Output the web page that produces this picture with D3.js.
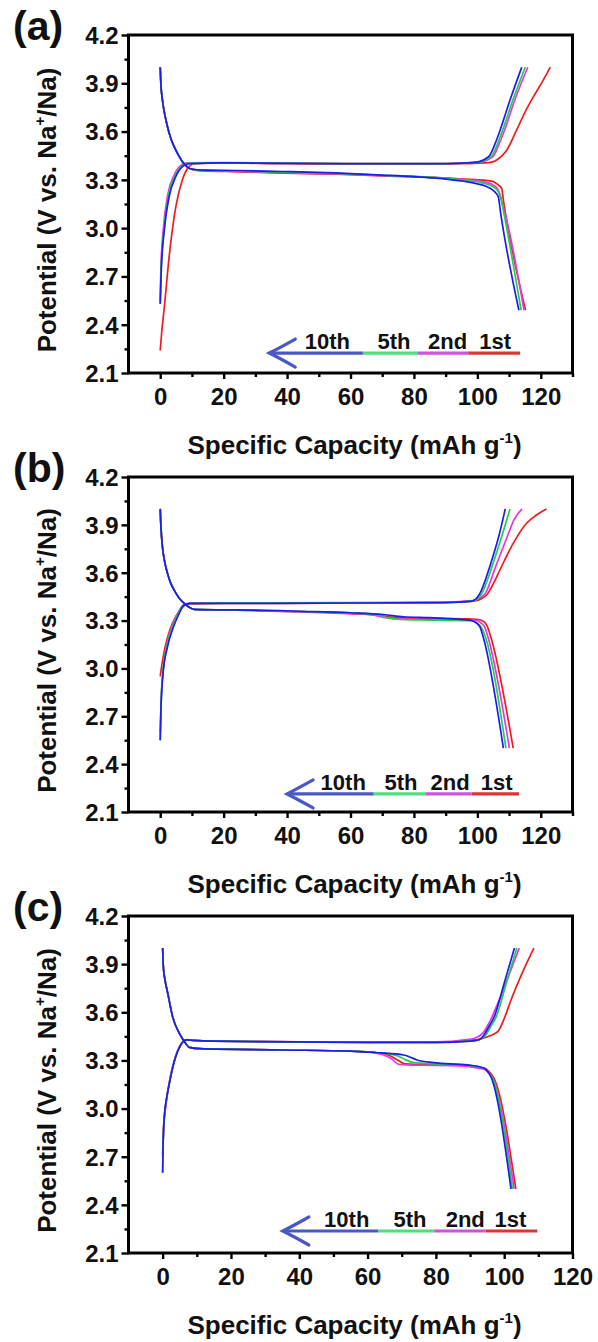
<!DOCTYPE html>
<html>
<head>
<meta charset="utf-8">
<script src="https://cdn.jsdelivr.net/npm/d3@7"></script>
<style>
  html, body { margin: 0; padding: 0; background: #fff; }
  svg { display: block; font-family: "Liberation Sans", Arial, sans-serif; font-weight: bold; }
</style>
</head>
<body>
<svg id="fig" width="598" height="1342"></svg>
<script>
// Galvanostatic charge/discharge profiles, cycles 1, 2, 5 and 10, three electrodes.
const cycles = ["1st", "2nd", "5th", "10th"];
const capTicks = [0, 20, 40, 60, 80, 100, 120];
const capMinorTicks = [10, 30, 50, 70, 90, 110, 130];
const voltTicks = [2.1, 2.4, 2.7, 3.0, 3.3, 3.6, 3.9, 4.2];
const voltMinorTicks = [2.25, 2.55, 2.85, 3.15, 3.45, 3.75, 4.05];

// ---- electrode (a) ----  [capacity mAh/g, potential V]
const aCharge1st = [[0,2.24],[0.5,2.36],[1.3,2.51],[2.8,2.82],[4.9,3.13],[7,3.30],[8.6,3.37],[10.7,3.40],[20,3.405],[40,3.40],[60,3.398],[80,3.398],[95,3.40],[102,3.405],[104.5,3.41],[106.1,3.423],[107.8,3.45],[109.3,3.486],[112.4,3.61],[115,3.72],[117.7,3.817],[120.5,3.91],[123,4.0]];
const aCharge2nd = [[0,2.55],[0.2,2.75],[1,3.0],[2.4,3.21],[4.4,3.33],[6.5,3.39],[8.5,3.405],[20,3.407],[60,3.402],[90,3.402],[98,3.407],[102,3.415],[103.8,3.43],[105.3,3.455],[106.8,3.52],[108.6,3.61],[111.8,3.796],[115.9,4.0]];
const aCharge5th = [[0,2.53],[0.25,2.73],[1.2,2.99],[2.6,3.2],[4.7,3.325],[6.8,3.385],[8.9,3.402],[20,3.406],[60,3.401],[90,3.401],[97.5,3.406],[101.5,3.415],[103.2,3.43],[104.8,3.455],[106.3,3.52],[108,3.61],[111.2,3.796],[115.1,4.0]];
const aCharge10th = [[0,2.53],[0.3,2.72],[1.3,2.99],[2.8,3.195],[4.9,3.32],[7,3.382],[9.1,3.40],[20,3.405],[60,3.40],[90,3.40],[97,3.405],[100.8,3.415],[102.5,3.43],[104,3.455],[105.5,3.52],[107.2,3.61],[110.3,3.796],[114,4.0]];
const aDischarge1st = [[0,4.0],[0.2,3.9],[0.7,3.796],[1.4,3.71],[2.3,3.63],[3.3,3.56],[4.4,3.506],[5.7,3.455],[7,3.413],[8,3.39],[9.1,3.372],[10.5,3.362],[12.2,3.357],[25,3.35],[38.5,3.342],[55,3.335],[70,3.325],[86,3.315],[96,3.305],[102,3.298],[105,3.289],[106.5,3.27],[107.7,3.245],[108.2,3.175],[108.8,3.1],[115.2,2.49]];
const aDischarge2nd = [[0,4.0],[0.2,3.9],[0.7,3.796],[1.4,3.71],[2.3,3.63],[3.3,3.56],[4.4,3.506],[5.7,3.455],[7,3.413],[8,3.39],[9.1,3.372],[10.5,3.364],[12.2,3.36],[25,3.352],[38.5,3.345],[55,3.338],[70,3.326],[86,3.315],[96,3.302],[101.5,3.29],[104.3,3.275],[106.2,3.25],[107.3,3.2],[108,3.14],[108.6,3.1],[114.7,2.49]];
const aDischarge5th = [[0,4.0],[0.2,3.9],[0.7,3.796],[1.4,3.71],[2.3,3.63],[3.3,3.56],[4.4,3.506],[5.7,3.455],[7,3.413],[8,3.39],[9.1,3.372],[10.5,3.365],[12.2,3.361],[25,3.354],[38.5,3.348],[55,3.34],[70,3.328],[86,3.315],[96,3.298],[100.5,3.285],[103.5,3.27],[105.5,3.25],[106.8,3.22],[107.6,3.17],[108.3,3.1],[113.8,2.49]];
const aDischarge10th = [[0,4.0],[0.2,3.9],[0.7,3.796],[1.4,3.71],[2.3,3.63],[3.3,3.56],[4.4,3.506],[5.7,3.455],[7,3.413],[8,3.39],[9.1,3.372],[10.5,3.366],[12.2,3.362],[25,3.358],[38.5,3.352],[55,3.343],[70,3.33],[80,3.32],[86,3.312],[92,3.30],[96.4,3.289],[100,3.275],[102.5,3.262],[104,3.248],[105.5,3.225],[106.6,3.196],[107.3,3.1],[113.1,2.49]];

// ---- electrode (b) ----
const bCharge1st = [[0,2.95],[0.5,3.02],[1.5,3.13],[3,3.24],[5,3.33],[7,3.385],[9,3.405],[20,3.408],[40,3.408],[60,3.41],[80,3.412],[95,3.418],[99.8,3.425],[101.5,3.44],[102.9,3.46],[105,3.53],[107.1,3.617],[111.3,3.784],[115.5,3.91],[118.5,3.96],[121.8,4.0]];
const bCharge2nd = [[0,2.6],[0.3,2.8],[1,3.0],[2.2,3.16],[3.8,3.27],[5.3,3.335],[7.4,3.40],[9.5,3.41],[20,3.41],[60,3.412],[90,3.415],[98.5,3.425],[100.5,3.44],[102.5,3.47],[105.8,3.64],[109.5,3.83],[111.5,3.93],[114.1,4.0]];
const bCharge5th = [[0,2.55],[0.2,2.74],[0.8,2.97],[2.2,3.15],[3.8,3.26],[5.3,3.33],[7.4,3.398],[9.5,3.408],[20,3.409],[60,3.41],[90,3.413],[98,3.42],[100,3.435],[101.4,3.47],[104.6,3.638],[108,3.847],[110.3,4.0]];
const bCharge10th = [[0,2.55],[0.2,2.72],[0.8,2.95],[2.3,3.136],[4,3.25],[5.5,3.324],[7.6,3.397],[9.5,3.408],[20,3.408],[60,3.41],[90,3.413],[97.7,3.42],[99.5,3.435],[100.8,3.47],[103.9,3.638],[107,3.847],[108.8,4.0]];
const bDischarge1st = [[0,4.0],[0.2,3.9],[0.7,3.763],[1.4,3.67],[2.3,3.596],[3.3,3.535],[4.4,3.491],[6,3.44],[7.6,3.408],[9,3.385],[10.7,3.37],[20,3.366],[28.5,3.363],[45,3.354],[59.9,3.344],[68,3.335],[73,3.322],[80,3.315],[90,3.313],[99,3.31],[101.5,3.3],[103,3.27],[104.2,3.2],[111.3,2.5]];
const bDischarge2nd = [[0,4.0],[0.2,3.9],[0.7,3.763],[1.4,3.67],[2.3,3.596],[3.3,3.535],[4.4,3.491],[6,3.44],[7.6,3.408],[9,3.385],[10.7,3.37],[20,3.367],[28.5,3.364],[45,3.355],[59.9,3.345],[67,3.335],[71,3.318],[76,3.31],[85,3.308],[99,3.302],[100.8,3.29],[102.3,3.26],[103.3,3.2],[110.1,2.5]];
const bDischarge5th = [[0,4.0],[0.2,3.9],[0.7,3.763],[1.4,3.67],[2.3,3.596],[3.3,3.535],[4.4,3.491],[6,3.44],[7.6,3.408],[9,3.385],[10.7,3.37],[20,3.367],[28.5,3.365],[45,3.357],[59.9,3.348],[68,3.338],[72,3.315],[77,3.305],[85,3.303],[98,3.298],[99.8,3.285],[101.5,3.25],[102.5,3.2],[109,2.5]];
const bDischarge10th = [[0,4.0],[0.2,3.9],[0.7,3.763],[1.4,3.67],[2.3,3.596],[3.3,3.535],[4.4,3.491],[6,3.44],[7.6,3.408],[9,3.385],[10.7,3.37],[20,3.367],[28.5,3.366],[45,3.358],[59.9,3.349],[70.4,3.338],[76.7,3.324],[85,3.318],[97.7,3.303],[99.3,3.29],[100.8,3.26],[101.8,3.2],[108.2,2.5]];

// ---- electrode (c) ----
const cCharge1st = [[0,2.7],[0.3,2.88],[0.8,3.0],[2,3.165],[3.9,3.33],[5,3.385],[5.9,3.415],[7,3.428],[9,3.425],[15,3.42],[40,3.415],[60,3.413],[80,3.413],[92,3.43],[94.1,3.44],[96,3.455],[98.1,3.479],[100,3.56],[102,3.677],[105,3.832],[108.7,4.0]];
const cCharge2nd = [[0,2.72],[0.3,2.9],[0.8,3.0],[2,3.17],[3.9,3.335],[5,3.39],[5.9,3.418],[7,3.43],[9,3.425],[15,3.42],[40,3.416],[60,3.414],[80,3.415],[89,3.43],[91.5,3.44],[93.5,3.465],[95.5,3.53],[98,3.65],[101,3.81],[104.4,4.0]];
const cCharge5th = [[0,2.6],[0.1,2.75],[0.5,2.954],[1.2,3.07],[2,3.161],[3,3.26],[3.9,3.328],[5,3.385],[5.9,3.415],[7,3.428],[9,3.425],[15,3.42],[40,3.415],[60,3.412],[80,3.412],[90,3.42],[92.6,3.427],[94.6,3.459],[96,3.51],[97.7,3.573],[100.6,3.781],[103.7,4.0]];
const cCharge10th = [[0,2.6],[0.1,2.75],[0.5,2.954],[1.2,3.07],[2,3.161],[3,3.26],[3.9,3.328],[5,3.385],[5.9,3.415],[7,3.428],[9,3.425],[15,3.42],[40,3.415],[60,3.412],[80,3.412],[90,3.42],[92.4,3.427],[94.1,3.459],[95.5,3.51],[97.1,3.573],[100,3.781],[103,4.0]];
const cDischarge1st = [[0,4.0],[0.2,3.884],[0.7,3.8],[1.5,3.718],[2.9,3.573],[4.9,3.469],[6.4,3.417],[7.8,3.381],[10.9,3.373],[35.4,3.365],[55,3.358],[62.8,3.348],[66.7,3.328],[69,3.3],[71.1,3.278],[80,3.272],[90,3.268],[94.5,3.25],[96,3.22],[97,3.19],[103.4,2.5]];
const cDischarge2nd = [[0,4.0],[0.2,3.884],[0.7,3.8],[1.5,3.718],[2.9,3.573],[4.9,3.469],[6.4,3.417],[7.8,3.381],[10.9,3.373],[35.4,3.365],[55,3.358],[62,3.348],[64.7,3.334],[67,3.31],[69.1,3.276],[74.5,3.27],[85,3.268],[94.1,3.245],[95.5,3.22],[96.6,3.19],[102.9,2.5]];
const cDischarge5th = [[0,4.0],[0.2,3.884],[0.7,3.8],[1.5,3.718],[2.9,3.573],[4.9,3.469],[6.4,3.417],[7.8,3.381],[10.9,3.373],[35.4,3.365],[55,3.358],[62.8,3.348],[68.6,3.33],[71,3.305],[73.5,3.286],[80,3.278],[90,3.27],[94.3,3.25],[95.6,3.22],[96.5,3.195],[102.4,2.5]];
const cDischarge10th = [[0,4.0],[0.2,3.884],[0.7,3.8],[1.5,3.718],[2.9,3.573],[4.9,3.469],[6.4,3.417],[7.8,3.381],[10.9,3.373],[35.4,3.365],[55,3.358],[62.8,3.348],[66,3.344],[70.6,3.334],[72.5,3.32],[74.5,3.303],[79.4,3.286],[89.2,3.272],[94.1,3.251],[95.2,3.23],[96.1,3.199],[102,2.5]];

// In-plot cycle key: segment ends (1st → 10th, then arrow tip) and label centres, in data units
const aKeyStops = [113.5, 97.1, 81.3, 63.9, 34.4];
const aKeyLabels = [105.6, 90.6, 73.7, 52.7];
const bKeyStops = [113.2, 98.2, 83.6, 67.3, 40.0];
const bKeyLabels = [106.1, 91.4, 75.9, 57.7];
const cKeyStops = [109.7, 94.5, 79.5, 63.1, 35.2];
const cKeyLabels = [101.8, 88.6, 72.4, 53.9];

const curveColors = ["#f01c1c", "#e835e8", "#22cf45", "#1c1cee"];
const keyColors = ["#dd3535", "#cf52de", "#4ce07c", "#4a58c6"];

const panels = [
  { tag: "(a)", top: 35,  bottom: 373,  xMax: 130, keyV: 2.224,
    charge: [aCharge1st, aCharge2nd, aCharge5th, aCharge10th],
    discharge: [aDischarge1st, aDischarge2nd, aDischarge5th, aDischarge10th],
    stops: aKeyStops, labels: aKeyLabels },
  { tag: "(b)", top: 477, bottom: 812,  xMax: 130, keyV: 2.213,
    charge: [bCharge1st, bCharge2nd, bCharge5th, bCharge10th],
    discharge: [bDischarge1st, bDischarge2nd, bDischarge5th, bDischarge10th],
    stops: bKeyStops, labels: bKeyLabels },
  { tag: "(c)", top: 916, bottom: 1253, xMax: 120, keyV: 2.237,
    charge: [cCharge1st, cCharge2nd, cCharge5th, cCharge10th],
    discharge: [cDischarge1st, cDischarge2nd, cDischarge5th, cDischarge10th],
    stops: cKeyStops, labels: cKeyLabels }
];

const svg = d3.select("#fig");
const left = 128.5, right = 572.5;
const fontStack = "'Liberation Sans', Arial, sans-serif";

panels.forEach((p, pi) => {
  const x = d3.scaleLinear().domain([-10, p.xMax]).range([left, right]);
  const y = d3.scaleLinear().domain([2.1, 4.2]).range([p.bottom, p.top]);
  const g = svg.append("g");

  const clipId = "clip" + pi;
  g.append("clipPath").attr("id", clipId).append("rect")
    .attr("x", left).attr("y", p.top).attr("width", right - left).attr("height", p.bottom - p.top);

  // curves: 1st drawn first, 10th on top
  const line = d3.line().x(d => x(d[0])).y(d => y(d[1])).curve(d3.curveMonotoneX);
  const plot = g.append("g").attr("clip-path", `url(#${clipId})`);
  cycles.forEach((c, i) => {
    [p.charge[i], p.discharge[i]].forEach(series => {
      plot.append("path").datum(series)
        .attr("d", line).attr("fill", "none")
        .attr("stroke", curveColors[i]).attr("stroke-width", 1.7)
        .attr("stroke-linejoin", "round");
    });
  });

  // cycle key with leftward arrow (direction of increasing cycle number)
  const ky = y(p.keyV);
  cycles.forEach((c, i) => {
    g.append("line")
      .attr("x1", x(p.stops[i])).attr("x2", x(p.stops[i + 1]))
      .attr("y1", ky).attr("y2", ky)
      .attr("stroke", keyColors[i]).attr("stroke-width", 3.2);
    g.append("text")
      .attr("x", x(p.labels[i])).attr("y", ky - 4)
      .attr("text-anchor", "middle").attr("font-size", 22)
      .attr("fill", "#111").text(c);
  });
  const tip = x(p.stops[4]);
  g.append("path")
    .attr("d", `M${tip + 26},${ky - 14} Q${tip + 10},${ky - 5} ${tip},${ky} Q${tip + 10},${ky + 5} ${tip + 26},${ky + 14}`)
    .attr("fill", "none").attr("stroke", keyColors[3]).attr("stroke-width", 3.2)
    .attr("stroke-linecap", "round");

  // axes
  const xAxis = g.append("g").attr("transform", `translate(0,${p.bottom})`)
    .call(d3.axisBottom(x).tickValues(capTicks.filter(v => v <= p.xMax)).tickSize(6).tickSizeOuter(0));
  const xMinor = g.append("g").attr("transform", `translate(0,${p.bottom})`)
    .call(d3.axisBottom(x).tickValues(capMinorTicks.filter(v => v <= p.xMax)).tickSize(4).tickFormat(""));
  const yAxis = g.append("g").attr("transform", `translate(${left},0)`)
    .call(d3.axisLeft(y).tickValues(voltTicks).tickSize(7).tickSizeOuter(0).tickFormat(d3.format(".1f")));
  const yMinor = g.append("g").attr("transform", `translate(${left},0)`)
    .call(d3.axisLeft(y).tickValues(voltMinorTicks).tickSize(4).tickFormat(""));
  [xAxis, xMinor, yAxis, yMinor].forEach(a => {
    a.select(".domain").remove();
    a.selectAll(".tick line").attr("stroke", "#000").attr("stroke-width", 2.4);
  });
  xAxis.selectAll(".tick text")
    .attr("y", 32).attr("dy", 0).attr("font-size", 24)
    .attr("font-family", fontStack).attr("font-weight", "bold").attr("fill", "#111");
  yAxis.selectAll(".tick text")
    .attr("x", -10).attr("dy", "0.35em").attr("font-size", 24)
    .attr("font-family", fontStack).attr("font-weight", "bold").attr("fill", "#111");

  // frame
  g.append("rect").attr("x", left).attr("y", p.top)
    .attr("width", right - left).attr("height", p.bottom - p.top)
    .attr("fill", "none").attr("stroke", "#000").attr("stroke-width", 3);

  // axis titles
  const xt = g.append("text").attr("x", (left + right) / 2 + 4).attr("y", p.bottom + 81)
    .attr("text-anchor", "middle").attr("font-size", 26).attr("fill", "#111");
  xt.append("tspan").text("Specific Capacity (mAh g");
  xt.append("tspan").attr("font-size", 15).attr("dy", -11).text("-1");
  xt.append("tspan").attr("dy", 11).text(")");

  const cy = (p.top + p.bottom) / 2 + 6;
  const yt = g.append("text").attr("transform", `translate(56,${cy}) rotate(-90)`)
    .attr("text-anchor", "middle").attr("font-size", 26).attr("fill", "#111");
  yt.append("tspan").text("Potential (V vs. Na");
  yt.append("tspan").attr("font-size", 15).attr("dy", -11).text("+");
  yt.append("tspan").attr("dy", 11).text("/Na)");

  // panel tag
  g.append("text").attr("x", 13).attr("y", p.top + 5)
    .attr("font-size", 41).attr("fill", "#111").text(p.tag);
});
</script>
</body>
</html>
